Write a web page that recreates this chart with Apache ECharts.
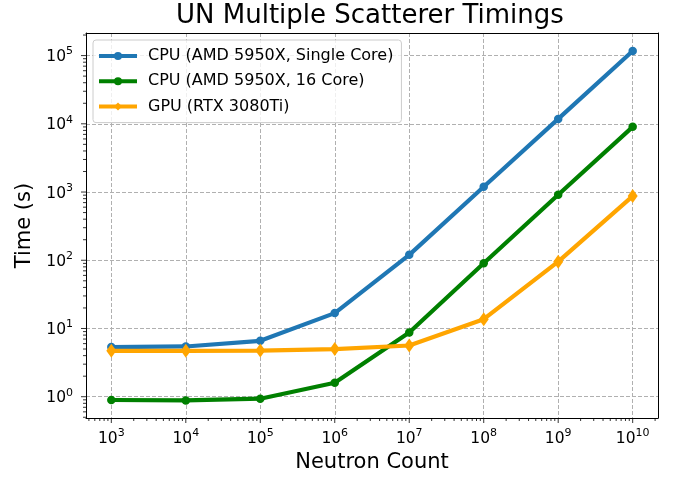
<!DOCTYPE html>
<html>
<head>
<meta charset="utf-8">
<script src="https://cdn.jsdelivr.net/npm/echarts@6/dist/echarts.min.js"></script>
<style>
  html, body { margin: 0; padding: 0; background: #fff; }
  #main { width: 675px; height: 478px; }
</style>
</head>
<body>
<div id="main"></div>
<script>
// neutron counts (x) and timings in seconds
var neutronCounts = [1e3, 1e4, 1e5, 1e6, 1e7, 1e8, 1e9, 1e10];
var cpuSingle = [5.34, 5.45, 6.6, 16.8, 120, 1195, 11800, 116700];
var cpu16 = [0.895, 0.883, 0.935, 1.6, 8.73, 90.4, 912, 9020];
var gpu = [4.71, 4.7, 4.75, 4.99, 5.63, 13.7, 95.5, 873];

var seriesNames = ['CPU (AMD 5950X, Single Core)', 'CPU (AMD 5950X, 16 Core)', 'GPU (RTX 3080Ti)'];

// axis extents (log10 space), matching the matplotlib margins
var xMin = Math.pow(10, 2.66), xMax = Math.pow(10, 10.34);
var yMin = Math.pow(10, -0.312), yMax = Math.pow(10, 5.331);

function pairs(ys) {
  return neutronCounts.map(function (x, i) { return [x, ys[i]]; });
}

// minor tick positions 2..9 x 10^n inside the extent
function minorTicks(lo, hi) {
  var out = [];
  for (var n = -2; n <= 11; n++) {
    for (var k = 2; k <= 9; k++) {
      var v = k * Math.pow(10, n);
      if (v > lo && v < hi) out.push(v);
    }
  }
  return out;
}

function powLabel(v) {
  var e = Math.round(Math.log10(v));
  return '{b|10}{s|' + e + '}';
}

var labelRich = {
  b: { fontSize: 15.5, fontFamily: 'DejaVu Sans', color: '#000', verticalAlign: 'bottom' },
  s: { fontSize: 11, fontFamily: 'DejaVu Sans', color: '#000', verticalAlign: 'bottom', padding: [0, 0, 8, 0] }
};

var tickLine = function (dir) {
  return function (params, api) {
    var p = api.coord([api.value(0), api.value(1)]);
    var len = api.value(2);
    var shape = dir === 'x'
      ? { x1: p[0], y1: p[1], x2: p[0], y2: p[1] + len }
      : { x1: p[0], y1: p[1], x2: p[0] - len, y2: p[1] };
    return { type: 'line', shape: shape, style: { stroke: '#000', lineWidth: 0.8 } };
  };
};

var xMinor = minorTicks(xMin, xMax).map(function (v) { return [v, yMin, 3]; });
var yMinor = minorTicks(yMin, yMax).map(function (v) { return [xMin, v, 3]; });
var xMajor = neutronCounts.map(function (v) { return [v, yMin, 5]; });
var yMajor = [1, 10, 100, 1000, 1e4, 1e5].map(function (v) { return [xMin, v, 5]; });

var chart = echarts.init(document.getElementById('main'), null, { renderer: 'canvas' });
chart.setOption({
  animation: false,
  title: {
    text: 'UN Multiple Scatterer Timings',
    left: 176,
    top: 3,
    padding: 0,
    textStyle: { fontFamily: 'DejaVu Sans', fontSize: 26, fontWeight: 'normal', color: '#000' }
  },
  legend: {
    data: seriesNames,
    orient: 'vertical',
    left: 93,
    top: 40,
    padding: [8, 8, 8, 4],
    itemWidth: 38,
    itemHeight: 10,
    itemGap: 9.3,
    backgroundColor: 'rgba(255,255,255,0.8)',
    borderColor: '#cccccc',
    borderWidth: 1,
    borderRadius: 3,
    lineStyle: { width: 4 },
    textStyle: { fontFamily: 'DejaVu Sans', fontSize: 16, color: '#000', lineHeight: 14, padding: [0, 0, 0, 6] }
  },
  grid: { left: 86, right: 17, top: 33, bottom: 60 },
  xAxis: [{
    type: 'log',
    logBase: 10,
    min: xMin,
    max: xMax,
    name: 'Neutron Count',
    nameLocation: 'middle',
    nameGap: 34,
    nameTextStyle: { fontFamily: 'DejaVu Sans', fontSize: 21, color: '#000' },
    axisLine: { lineStyle: { color: '#000', width: 1 } },
    axisTick: { show: false },
    axisLabel: { margin: 10, showMinLabel: false, showMaxLabel: false, formatter: powLabel, rich: labelRich },
    splitLine: { show: true, showMinLine: false, showMaxLine: false, lineStyle: { color: '#b0b0b0', type: [4, 2], width: 1 } }
  }, {
    type: 'log', position: 'top', min: xMin, max: xMax,
    axisLine: { lineStyle: { color: '#000', width: 1 } },
    axisTick: { show: false }, axisLabel: { show: false }, splitLine: { show: false }
  }],
  yAxis: [{
    type: 'log',
    logBase: 10,
    min: yMin,
    max: yMax,
    name: 'Time (s)',
    nameLocation: 'middle',
    nameGap: 46,
    nameTextStyle: { fontFamily: 'DejaVu Sans', fontSize: 21, color: '#000' },
    axisLine: { show: true, lineStyle: { color: '#000', width: 1 } },
    axisTick: { show: false },
    axisLabel: { margin: 13, showMinLabel: false, showMaxLabel: false, formatter: powLabel, rich: labelRich },
    splitLine: { show: true, showMinLine: false, showMaxLine: false, lineStyle: { color: '#b0b0b0', type: [4, 2], width: 1 } }
  }, {
    type: 'log', position: 'right', min: yMin, max: yMax,
    axisLine: { show: true, lineStyle: { color: '#000', width: 1 } },
    axisTick: { show: false }, axisLabel: { show: false }, splitLine: { show: false }
  }],
  series: [
    {
      name: seriesNames[0], type: 'line', data: pairs(cpuSingle),
      symbol: 'circle', symbolSize: 8.5, color: '#1f77b4',
      lineStyle: { width: 4.2 }, z: 3
    },
    {
      name: seriesNames[1], type: 'line', data: pairs(cpu16),
      symbol: 'circle', symbolSize: 8.5, color: '#008000',
      lineStyle: { width: 4.2 }, z: 4
    },
    {
      name: seriesNames[2], type: 'line', data: pairs(gpu),
      symbol: 'diamond', symbolSize: [10, 14], color: '#ffa500',
      lineStyle: { width: 4.2 }, z: 5
    },
    { type: 'custom', silent: true, clip: false, renderItem: tickLine('x'), data: xMinor.concat(xMajor), z: 6 },
    { type: 'custom', silent: true, clip: false, renderItem: tickLine('y'), data: yMinor.concat(yMajor), z: 6 }
  ]
});
</script>
</body>
</html>
